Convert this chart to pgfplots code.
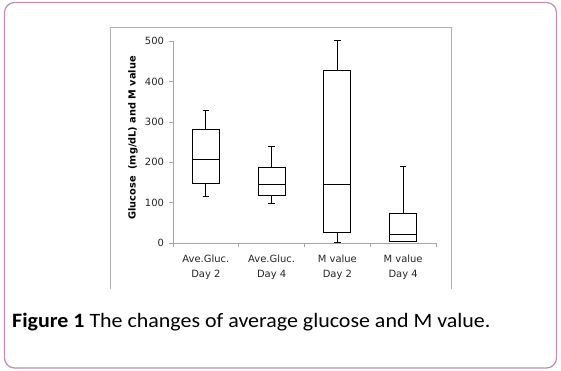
\documentclass[border=0pt]{standalone}
\usepackage{fontspec}
\setmainfont{Carlito}
\newfontfamily\chartfont{DejaVu Sans}
\usepackage{graphicx}
\usepackage{pgfplots}
\pgfplotsset{compat=1.18}
\usepgfplotslibrary{statistics}
\definecolor{framepink}{RGB}{196,140,176}
\begin{document}
\begin{tikzpicture}
\useasboundingbox (0bp,0bp) rectangle (561bp,371bp);
\draw[framepink, line width=1.2bp, rounded corners=10bp] (4.5bp,3bp) rectangle (556.5bp,368.5bp);
\draw[gray!60, line width=0.9bp] (110bp,82bp) -- (110bp,344bp) -- (451bp,344bp) -- (451bp,82bp);
\begin{axis}[
  at={(173bp,128bp)}, anchor=south west,
  scale only axis, width=263bp, height=202bp,
  xmin=-0.5, xmax=3.5, ymin=0, ymax=500,
  axis x line*=bottom, axis y line*=left,
  axis line style={gray!70, line width=0.6bp, -},
  ytick={0,100,200,300,400,500},
  xtick={0,1,2,3},
  xticklabels={{Ave.Gluc.\\Day 2},{Ave.Gluc.\\Day 4},{M value\\Day 2},{M value\\Day 4}},
  minor xtick={-0.5,0.5,1.5,2.5,3.5},
  major x tick style={draw=none},
  tick align=outside,
  major tick length=4.5bp, minor tick length=4.5bp,
  tick style={gray!70, line width=0.6bp},
  /pgf/number format/assume math mode=true,
  ticklabel style={font=\chartfont\fontsize{10}{15}\selectfont, text=black!85},
  xticklabel style={align=center, yshift=-4bp},
  yticklabel style={xshift=-1bp},
  ylabel={\bfseries Glucose\ \ (mg/dL) and M value},
  ylabel style={font=\chartfont\fontsize{9.8}{11}\selectfont, at={(axis description cs:-0.152,0.52)}, anchor=center},
  boxplot/draw direction=y,
  boxplot/box extend=0.41,
  boxplot/whisker extend=0.1,
  clip=false,
]
\addplot[black, line width=0.8bp, boxplot prepared={draw position=0, lower whisker=116, lower quartile=148, median=208, upper quartile=280, upper whisker=329}] coordinates {};
\addplot[black, line width=0.8bp, boxplot prepared={draw position=1, lower whisker=99, lower quartile=117, median=146, upper quartile=188, upper whisker=238}] coordinates {};
\addplot[black, line width=0.8bp, boxplot prepared={draw position=2, lower whisker=2, lower quartile=25, median=146, upper quartile=428, upper whisker=501}] coordinates {};
\addplot[black, line width=0.8bp, boxplot prepared={draw position=3, lower whisker=3, lower quartile=5, median=22, upper quartile=74, upper whisker=190}] coordinates {};
\end{axis}
\node[anchor=base west, inner sep=0, font=\fontsize{20.5}{24}\selectfont] at (12bp,43bp) {\scalebox{1.075}[1]{\textbf{Figure 1} The changes of average glucose and M value.}};
\end{tikzpicture}
\end{document}
